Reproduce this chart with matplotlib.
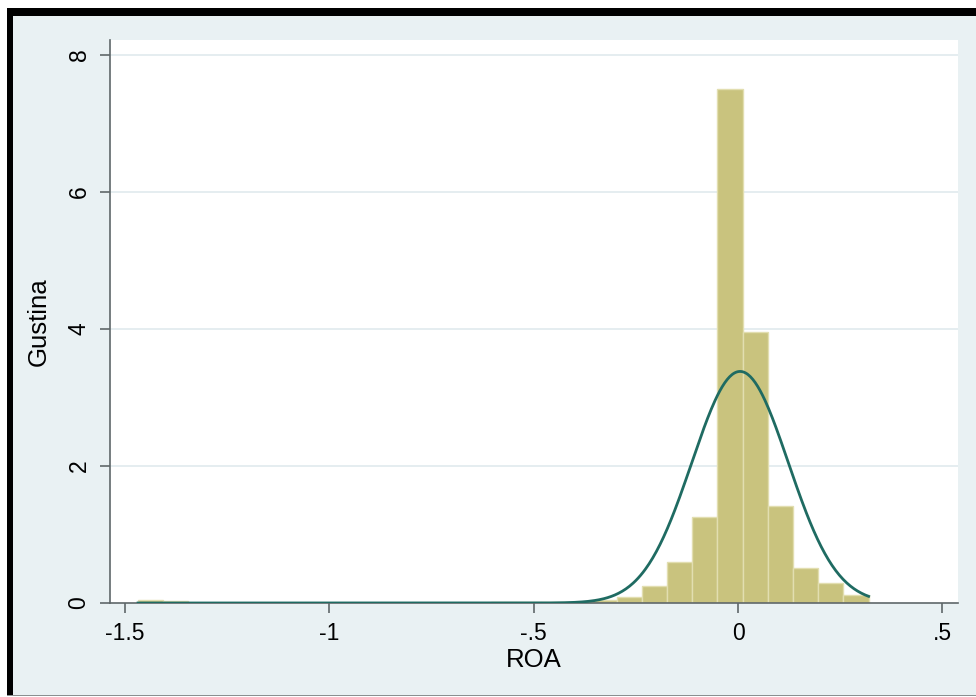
import numpy as np
import matplotlib.pyplot as plt
from matplotlib.patches import Rectangle

# histogram of ROA (density), 29 bins starting at the minimum
roa_min = -1.467
bin_width = 0.0616
density = [0.04, 0.025, 0, 0, 0, 0, 0, 0, 0, 0, 0, 0, 0, 0,
           0.015, 0.015, 0.015, 0.02, 0.05, 0.09, 0.25, 0.60, 1.26,
           7.51, 3.96, 1.42, 0.51, 0.29, 0.12]

# fitted normal overlay
roa_mean = 0.005
roa_sd = 0.118

xticks = [-1.5, -1, -0.5, 0, 0.5]
xtick_labels = ["-1.5", "-1", "-.5", "0", ".5"]
yticks = [0, 2, 4, 6, 8]

plt.rcParams['font.family'] = ['Liberation Sans', 'DejaVu Sans']

W, H = 976, 697
fig = plt.figure(figsize=(W / 100, H / 100), dpi=100, facecolor='white')

# background and frame (drawn beneath the axes)
frame = [
    ((7 / W, 2 / H), 1, (H - 10) / H, '#e9f1f3'),
    ((7 / W, 2 / H), 6 / W, (H - 10) / H, 'black'),
    ((7 / W, (H - 16) / H), 1, 8 / H, 'black'),
    ((7 / W, 1 / H), 1, 1.5 / H, '#8a8f90'),
]
for xy, w, h, c in frame:
    fig.patches.append(Rectangle(xy, w, h, transform=fig.transFigure,
                                 facecolor=c, edgecolor='none', zorder=-5))

ax = fig.add_axes([110 / W, (H - 603) / H, (958 - 110) / W, (603 - 40) / H])
ax.set_zorder(5)
ax.set_facecolor('white')

n = len(density)
edges = roa_min + bin_width * np.arange(n + 1)
ax.bar(edges[:-1], density, width=bin_width, align='edge',
       color='#c9c37e', edgecolor='#e2deb0', linewidth=1, zorder=2)

xs = np.linspace(edges[0], edges[-1], 600)
pdf = np.exp(-0.5 * ((xs - roa_mean) / roa_sd) ** 2) / (roa_sd * np.sqrt(2 * np.pi))
ax.plot(xs, pdf, color='#1f6b62', linewidth=2, zorder=3)

ax.set_xlim(-1.5355, 0.5379)
ax.set_ylim(0, 8.22)
ax.set_xticks(xticks)
ax.set_xticklabels(xtick_labels)
ax.set_yticks(yticks)
ax.set_yticklabels([str(v) for v in yticks], rotation=90, va='center')

for v in yticks[1:]:
    ax.axhline(v, color='#e3ecef', linewidth=1.3, zorder=1)

for s in ['top', 'right']:
    ax.spines[s].set_visible(False)
for s in ['left', 'bottom']:
    ax.spines[s].set_color('#5f6769')
    ax.spines[s].set_linewidth(1.2)

ax.tick_params(axis='both', colors='#5f6769', length=7, width=1.2,
               labelcolor='black', labelsize=16.5, pad=7)

ax.set_xlabel("ROA", fontsize=18.5, labelpad=2)
ax.set_ylabel("Gustina", fontsize=18.5, labelpad=12)

plt.savefig('out.png', dpi=100, facecolor=fig.get_facecolor())
